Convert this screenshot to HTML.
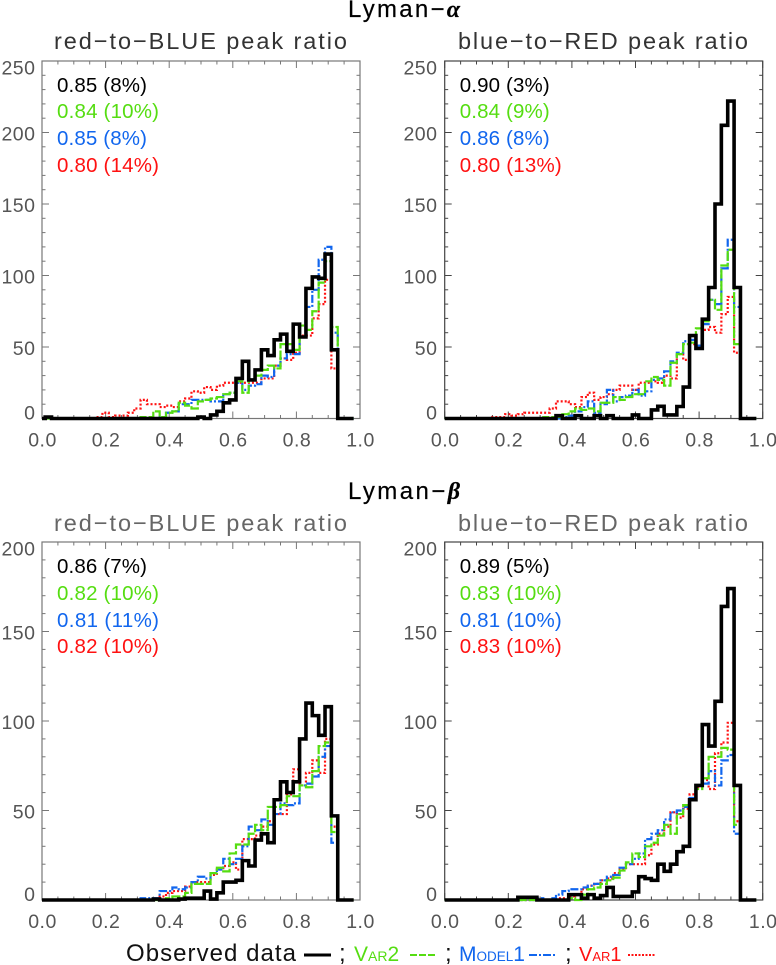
<!DOCTYPE html>
<html>
<head>
<meta charset="utf-8">
<title>Lyman peak ratio histograms</title>
<style>
html,body{margin:0;padding:0;background:#fff;width:776px;height:965px;overflow:hidden}
svg{display:block;font-family:"Liberation Sans",sans-serif}
</style>
</head>
<body>
<svg id="chart" width="776" height="965" viewBox="0 0 776 965" xmlns="http://www.w3.org/2000/svg">
  <text x="348" y="17" font-size="24" fill="#000" stroke="#000" stroke-width="0.2" textLength="112" lengthAdjust="spacing">Lyman−<tspan font-family="Liberation Serif" font-style="italic" font-weight="bold">α</tspan></text>
  <text x="348" y="499" font-size="24" fill="#000" stroke="#000" stroke-width="0.2" textLength="112" lengthAdjust="spacing">Lyman−<tspan font-family="Liberation Serif" font-style="italic" font-weight="bold">β</tspan></text>

  <text x="54" y="49" font-size="23.5" fill="#333" textLength="293" lengthAdjust="spacing">red−to−BLUE peak ratio</text>
  <text x="458" y="49" font-size="23.5" fill="#333" textLength="290" lengthAdjust="spacing">blue−to−RED peak ratio</text>
  <text x="54" y="531" font-size="23.5" fill="#666" textLength="293" lengthAdjust="spacing">red−to−BLUE peak ratio</text>
  <text x="458" y="531" font-size="23.5" fill="#666" textLength="290" lengthAdjust="spacing">blue−to−RED peak ratio</text>

  <g id="panels"></g>

  <g>
    <text x="126" y="961" font-size="24" fill="#111" textLength="170" lengthAdjust="spacing">Observed data</text>
    <line x1="304" x2="331" y1="955" y2="955" stroke="#000" stroke-width="3"/>
    <text x="339" y="961" font-size="24" fill="#111">;</text>
    <text x="354" y="961" font-size="21" fill="#55dd11">V<tspan font-size="14">AR</tspan>2</text>
    <line x1="410" x2="437" y1="955" y2="955" stroke="#55dd11" stroke-width="2" stroke-dasharray="7 2"/>
    <text x="445" y="961" font-size="24" fill="#111">;</text>
    <text x="459" y="961" font-size="21" fill="#1166ee">M<tspan font-size="13.5">ODEL</tspan>1</text>
    <line x1="529" x2="556" y1="955" y2="955" stroke="#1166ee" stroke-width="2" stroke-dasharray="8 2 2 2"/>
    <text x="565" y="961" font-size="24" fill="#111">;</text>
    <text x="579" y="961" font-size="20" fill="#ff1111">V<tspan font-size="13">AR</tspan>1</text>
    <line x1="628" x2="655" y1="955" y2="955" stroke="#ff1111" stroke-width="2" stroke-dasharray="2 1.5"/>
  </g>
</svg>
<script>
// Histogram bin centres (peak ratio)
const binCenters = [0.00,0.02,0.04,0.06,0.08,0.10,0.12,0.14,0.16,0.18,0.20,0.22,0.24,0.26,0.28,0.30,0.32,0.34,0.36,0.38,0.40,0.42,0.44,0.46,0.48,0.50,0.52,0.54,0.56,0.58,0.60,0.62,0.64,0.66,0.68,0.70,0.72,0.74,0.76,0.78,0.80,0.82,0.84,0.86,0.88,0.90,0.92,0.94,0.96,0.98];
const xTickLabels = ["0.0","0.2","0.4","0.6","0.8","1.0"];
const xTickValues = [0,0.2,0.4,0.6,0.8,1];
const xMinorValues = [0.05,0.1,0.15,0.25,0.3,0.35,0.45,0.5,0.55,0.65,0.7,0.75,0.85,0.9,0.95];
const yTicksAlpha = [0,50,100,150,200,250];
const yTicksBeta = [0,50,100,150,200];

// Lyman-alpha, red-to-BLUE
const aBlueObserved = [0,1,0,0,0,0,0,0,0,0,0,0,0,0,0,0,0,0,0,0,0,0,0,0,0,1,0,2.5,5,11,13,28,40,27,34,48,44,55,59,47,66,57,91,99,98,115,48,0,0,0];
const aBlueVar2 = [0,0,0,0,0,0,0,0,0,0,0,0,0,0,0,0,1,1,5,1,4,5,11,9,7,12,13,14,15,17,18,26,18,27,30,34,37,35,52,52,48,65,62,75,95,110,64,0,0,0];
const aBlueModel1 = [0,0,0,0,0,0,0,0,0,0,0,0,0,0,0,0,0,0,0,1,4,5,10,10,13,13,13,12,12,17,18,25,20,23,24,30,29,37,42,45,45,57,78,90,111,120,60,0,0,0];
const aBlueVar1 = [0,0,0,0,0,0,0,0,0,1,4,1,2,2,4,7,13,10,10,8,9,8,12,14,19,18,22,20,23,25,25,25,25,25,25,28,28,37,42,41,46,58,58,70,80,97,35,0,0,0];

// Lyman-alpha, blue-to-RED
const aRedObserved = [0,0,0,0,0,0,0,0,0,0,0,0,0,0,0,0,0,0,2,0,0,2,0,0,2,0,2,0,0,0,2.5,0,0,6,8.5,2.5,2.5,8.4,22,58,49,69.5,91.6,150,205,222,91.6,0,0,0];
const aRedVar2 = [0,0,0,0,0,0,0,0,0,0,0,0,0,0,0,0,1,1,1,3,5,7,6,7,5,11,11,15,13,15,17,17,26,29,27,23,39,45,52,53,63,68,83,76,107,118,52,0,0,0];
const aRedModel1 = [0,0,0,0,0,0,0,0,0,0,0,0,0,0,0,0,0,0,0,1,2,5,8,12,4,10,20,12,15,16,20,16,19,27,28,33,40,46,54,55,51,66,83,80,105,125,78,0,0,0];
const aRedVar1 = [0,0,0,0,0,0,0,0,1,1,3,2,3,4,4,4,4,7,12,12,10,8,15,18,13,15,17,20,23,23,20,25,25,26,25,30,28,45,41,52,51,62,64,60,73,85,46,0,0,0];

// Lyman-beta, red-to-BLUE
const bBlueObserved = [0,0,0,0,0,0,0,0,0,0,0,0,0,0,0,0,0,0,0.5,0,0,0,0.5,1,1,1,5,0.5,4,10,10,11,22,19,33.5,37,32,56,66,60,66,90,110,103,92,108,47,0,0,0];
const bBlueVar2 = [0,0,0,0,0,0,0,0,0,0,0,0,0,0,0,0,0,0,0,0,1,2,2,4,9,9,9,15,18,16,26,31,31,37,42,39,52,52,53,58,58,64,63,72,86,88,38,0,0,0];
const bBlueModel1 = [0,0,0,0,0,0,0,0,0,0,0,0,0,0,0,0,1,1,1,5,5,7,6,7,10,13,12,15,17,23,20,23,30,41,39,45,42,48,54,53,54,64,65,69,80,86,32,0,0,0];
const bBlueVar1 = [0,0,0,0,0,0,0,0,0,0,0,0,0,0,0,0,0,0,0.5,2,4,5,5,7.5,10,10,10,14,17,19,21,17,34,34,36,41,44,48,48,59,73,64,71,78,71,90,41,0,0,0];

// Lyman-beta, blue-to-RED
const bRedObserved = [0,0,0,0,0,0,0,0,0,0,0,0,1.5,1.5,1.5,0,0,0,0,0,3,3,1,3,1,2.5,7,2,2,2,4.5,13,12,11,20,16,20,27,30,56,64,98,86,111,164,174,64,0,0,0];
const bRedVar2 = [0,0,0,0,0,0,0,0,0,0,0,0,0,0,0,0,0,0,0,0,1,0,3,6,7,9,11,12.5,16.5,21,26,24,30,32,36,42,37,48,53,56,62,68,80,80,85,84,42,0,0,0];
const bRedModel1 = [0,0,0,0,0,0,0,0,0,0,0,0,0,0,0,1,0,1,3,5,6,6,7,8,9,11,13,14,18,20,23,26,34,37,39,45,49,50,52,57,64,65,72,64,78,81,37,0,0,0];
const bRedVar1 = [0,0,0,0,0,0,0,0,0,0,0,0,0,0,0,0,0,0,1,1,2,3,6,8,9,11,12,15,17,20,20,20,25,31,37,41,49,46,51,59,63,67,62,82,88,99,44,0,0,0];

// Printed statistics
const aBlueStats = ["0.85 (8%)","0.84 (10%)","0.85 (8%)","0.80 (14%)"];
const aRedStats = ["0.90 (3%)","0.84 (9%)","0.86 (8%)","0.80 (13%)"];
const bBlueStats = ["0.86 (7%)","0.82 (10%)","0.81 (11%)","0.82 (10%)"];
const bRedStats = ["0.89 (5%)","0.83 (10%)","0.81 (10%)","0.83 (10%)"];

const NS = "http://www.w3.org/2000/svg";
const COLORS = {observed:"#000000",var2:"#55dd11",model1:"#1166ee",var1:"#ff1111"};
const STAT_COLORS = ["#000000","#55dd11","#1166ee","#ff1111"];

const panelDefs = [
  {key:"alpha-blue",left:42,right:360,top:61,bottom:418.5,yMax:250,yTicks:yTicksAlpha,axis:"#777",labelRight:35,statY:[92,118,145,172],stats:aBlueStats,
   series:{var1:aBlueVar1,model1:aBlueModel1,var2:aBlueVar2,observed:aBlueObserved}},
  {key:"alpha-red",left:444.7,right:762.7,top:61,bottom:418.5,yMax:250,yTicks:yTicksAlpha,axis:"#444",labelRight:437,statY:[92,118,145,172],stats:aRedStats,
   series:{var1:aRedVar1,model1:aRedModel1,var2:aRedVar2,observed:aRedObserved}},
  {key:"beta-blue",left:42,right:360,top:542,bottom:900,yMax:200,yTicks:yTicksBeta,axis:"#777",labelRight:35,statY:[573,600,627,653],stats:bBlueStats,
   series:{var1:bBlueVar1,model1:bBlueModel1,var2:bBlueVar2,observed:bBlueObserved}},
  {key:"beta-red",left:444.7,right:762.7,top:542,bottom:900,yMax:200,yTicks:yTicksBeta,axis:"#444",labelRight:437,statY:[573,600,627,653],stats:bRedStats,
   series:{var1:bRedVar1,model1:bRedModel1,var2:bRedVar2,observed:bRedObserved}}
];

function addLine(parent,x1,y1,x2,y2,color,width){
  const el = document.createElementNS(NS,"line");
  el.setAttribute("x1",x1);
  el.setAttribute("y1",y1);
  el.setAttribute("x2",x2);
  el.setAttribute("y2",y2);
  el.setAttribute("stroke",color);
  el.setAttribute("stroke-width",width);
  parent.appendChild(el);
  return el;
}
function addText(parent,x,y,str,size,color,anchor,spacing){
  const el = document.createElementNS(NS,"text");
  el.setAttribute("x",x);
  el.setAttribute("y",y);
  el.setAttribute("font-size",size);
  el.setAttribute("fill",color);
  el.setAttribute("text-anchor",anchor);
  if(spacing) el.setAttribute("letter-spacing",spacing);
  el.textContent = str;
  parent.appendChild(el);
  return el;
}
function stepPath(values,xf,yf){
  let d = "M"+xf(binCenters[0]).toFixed(2)+" "+yf(values[0]).toFixed(2);
  for(let i=1;i<values.length;i++){
    const mid = xf((binCenters[i-1]+binCenters[i])/2).toFixed(2);
    d += "L"+mid+" "+yf(values[i-1]).toFixed(2);
    d += "L"+mid+" "+yf(values[i]).toFixed(2);
  }
  d += "L"+xf(binCenters[binCenters.length-1]).toFixed(2)+" "+yf(values[values.length-1]).toFixed(2);
  return d;
}

const root = document.getElementById("panels");
panelDefs.forEach(function(p){
  const xf = function(v){return p.left+(p.right-p.left)*v;};
  const yf = function(v){return p.bottom-(p.bottom-p.top)*v/p.yMax;};
  const g = document.createElementNS(NS,"g");
  
  
  root.appendChild(g);

  const frame = document.createElementNS(NS,"rect");
  frame.setAttribute("x",p.left);
  frame.setAttribute("y",p.top);
  frame.setAttribute("width",p.right-p.left);
  frame.setAttribute("height",p.bottom-p.top);
  frame.setAttribute("fill","none");
  frame.setAttribute("stroke",p.axis);
  frame.setAttribute("stroke-width",1.2);
  
  
  g.appendChild(frame);

  xTickValues.forEach(function(v,i){
    const a = addLine(g,xf(v),p.bottom,xf(v),p.bottom-7,p.axis,1);
    
    
    const b = addLine(g,xf(v),p.top,xf(v),p.top+7,p.axis,1);
    
    
    const t = addText(g,xf(v)+0.5,p.bottom+28,xTickLabels[i],19.5,"#555","middle",0.5);
    
    
  });
  xMinorValues.forEach(function(v){
    const a = addLine(g,xf(v),p.bottom,xf(v),p.bottom-3.5,p.axis,1);
    
    
    const b = addLine(g,xf(v),p.top,xf(v),p.top+3.5,p.axis,1);
    
    
  });
  for(let v=0;v<=p.yMax;v+=10){
    const major = v%50===0;
    const len = major?7:3.5;
    const a = addLine(g,p.left,yf(v),p.left+len,yf(v),p.axis,1);
    
    
    const b = addLine(g,p.right,yf(v),p.right-len,yf(v),p.axis,1);
    
    
  }
  p.yTicks.forEach(function(v){
    const off = v===0?1:(v===p.yMax?13.5:8);
    const t = addText(g,p.labelRight+0.5,yf(v)+off,String(v),19.5,"#555","end",0.5);
    
    
  });

  const styles = {
    var1:{w:2.2,dash:"2 2"},
    model1:{w:2.2,dash:"8 2 2 2"},
    var2:{w:2.2,dash:"10 2"},
    observed:{w:3.6,dash:null}
  };
  ["var1","model1","var2","observed"].forEach(function(name){
    const path = document.createElementNS(NS,"path");
    path.setAttribute("d",stepPath(p.series[name],xf,yf));
    path.setAttribute("fill","none");
    path.setAttribute("stroke",COLORS[name]);
    path.setAttribute("stroke-width",styles[name].w);
    if(styles[name].dash) path.setAttribute("stroke-dasharray",styles[name].dash);
    
    
    g.appendChild(path);
  });

  p.stats.forEach(function(s,i){
    const t = addText(g,p.left+15,p.statY[i],s,20.5,STAT_COLORS[i],"start",0);
    t.setAttribute("textLength",s.length>9?102:90);
    t.setAttribute("lengthAdjust","spacing");
    
    
  });
});
</script>
</body>
</html>
